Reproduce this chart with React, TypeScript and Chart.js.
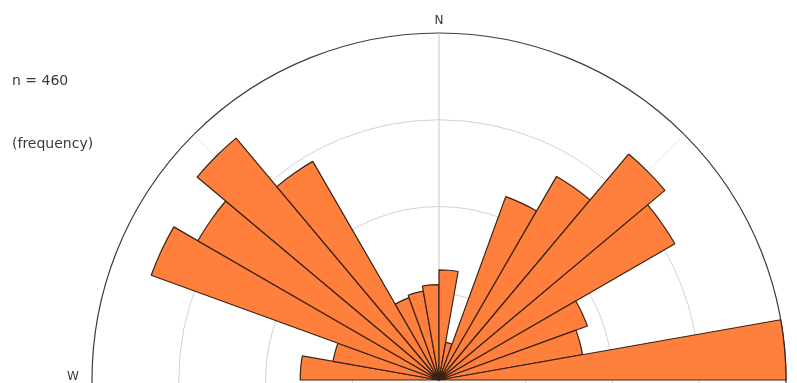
import React, { useEffect, useRef } from "react";
import { Chart, registerables } from "chart.js";

Chart.register(...registerables);

// Compass bins (10° each), starting at W and running clockwise through N to E,
// then the southern half which is not shown (zero).
const binLabels = [
  "270–280", "280–290", "290–300", "300–310", "310–320", "320–330",
  "330–340", "340–350", "350–360", "0–10", "10–20", "20–30",
  "30–40", "40–50", "50–60", "60–70", "70–80", "80–90",
  "90–100", "100–110", "110–120", "120–130", "130–140", "140–150",
  "150–160", "160–170", "170–180", "180–190", "190–200", "200–210",
  "210–220", "220–230", "230–240", "240–250", "250–260", "260–270",
];

const northFrequencies = [
  16.0, 12.4, 35.3, 32.1, 36.4, 29.1,
  10.1, 10.4, 11.0, 12.7, 4.4, 22.5,
  27.1, 34.0, 31.4, 18.2, 16.8, 40.0,
];

const southFrequencies = [
  0, 0, 0, 0, 0, 0, 0, 0, 0, 0, 0, 0, 0, 0, 0, 0, 0, 0,
];

const ringTicks = [10, 20, 30, 40];
const sampleText = "n = 460";
const unitText = "(frequency)";
const compassLabels = ["N", "W", "E"];

const overlayPlugin = {
  id: "roseOverlay",
  beforeDatasetsDraw(chart: any) {
    const s = chart.scales.r;
    const ctx = chart.ctx;
    const cx = s.xCenter;
    const cy = s.yCenter;
    const R = s.drawingArea;
    const lines = [
      { deg: 0, color: "#c8c8c8" },
      { deg: -45, color: "#ececec" },
      { deg: 45, color: "#ececec" },
    ];
    ctx.save();
    ctx.lineWidth = 1;
    for (const l of lines) {
      const a = (l.deg * Math.PI) / 180;
      ctx.strokeStyle = l.color;
      ctx.beginPath();
      ctx.moveTo(cx, cy);
      ctx.lineTo(cx + Math.sin(a) * R, cy - Math.cos(a) * R);
      ctx.stroke();
    }
    ctx.restore();
  },
  afterDraw(chart: any) {
    const s = chart.scales.r;
    const ctx = chart.ctx;
    const cx = s.xCenter;
    const cy = s.yCenter;
    const R = s.drawingArea;
    ctx.save();
    ctx.fillStyle = "#3a3a3a";
    ctx.font = '14px "DejaVu Sans"';
    ctx.textAlign = "left";
    ctx.textBaseline = "middle";
    ctx.fillText(sampleText, 12, 81);
    ctx.fillText(unitText, 12, 144);
    ctx.font = '12px "DejaVu Sans"';
    ctx.textAlign = "center";
    ctx.fillText(compassLabels[0], cx, cy - R - 12);
    ctx.fillText(compassLabels[1], cx - R - 19, cy - 3);
    ctx.fillText(compassLabels[2], cx + R + 19, cy - 3);
    ctx.restore();
  },
};

export default function App() {
  const canvasRef = useRef<HTMLCanvasElement | null>(null);

  useEffect(() => {
    if (!canvasRef.current) return;
    const chart = new Chart(canvasRef.current, {
      type: "polarArea",
      data: {
        labels: binLabels,
        datasets: [
          {
            data: [...northFrequencies, ...southFrequencies],
            backgroundColor: "#ff803c",
            borderColor: "#3a2214",
            borderWidth: 1.2,
          },
        ],
      },
      options: {
        responsive: false,
        animation: false,
        devicePixelRatio: 1,
        layout: { padding: { left: 92, right: 11, top: 33, bottom: 33 } },
        plugins: {
          legend: { display: false },
          tooltip: { enabled: false },
        },
        scales: {
          r: {
            type: "radialLinear",
            startAngle: 270,
            min: 0,
            max: ringTicks[ringTicks.length - 1],
            beginAtZero: true,
            ticks: { display: false, stepSize: ringTicks[1] - ringTicks[0] },
            angleLines: { display: false },
            pointLabels: { display: false },
            grid: {
              circular: true,
              lineWidth: (c: any) => (c.tick && c.tick.value === 40 ? 1.2 : 1),
              color: (c: any) =>
                c.tick && c.tick.value === 40 ? "#3c3c3c" : "#d2d2d2",
            },
          },
        },
      },
      plugins: [overlayPlugin],
    } as any);
    return () => chart.destroy();
  }, []);

  return (
    <div
      style={{
        position: "fixed",
        left: 0,
        top: 0,
        width: 797,
        height: 383,
        overflow: "hidden",
        background: "#ffffff",
      }}
    >
      <canvas
        ref={canvasRef}
        width={797}
        height={760}
        style={{ display: "block", width: 797, height: 760 }}
      />
    </div>
  );
}
